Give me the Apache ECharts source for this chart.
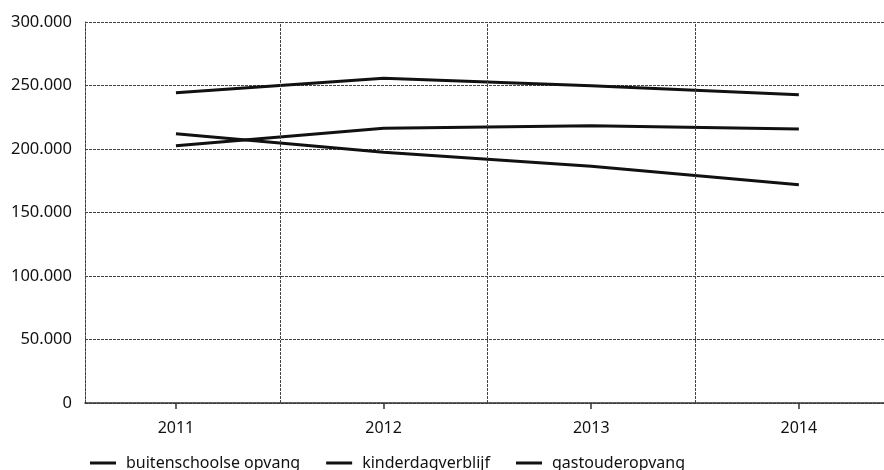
<!DOCTYPE html>
<html>
<head>
<meta charset="utf-8">
<script src="https://cdn.jsdelivr.net/npm/echarts@6/dist/echarts.min.js"></script>
<style>html,body{margin:0;padding:0;background:#fff}#c{width:884px;height:470px}</style>
</head>
<body>
<div id="c"></div>
<script>
var years = [2011, 2012, 2013, 2014];
var seriesNames = ['buitenschoolse opvang', 'kinderdagverblijf', 'gastouderopvang'];
var buitenschoolse = [202600, 216300, 218400, 215700];
var kinderdagverblijf = [244300, 255700, 249800, 242800];
var gastouder = [212000, 197500, 186500, 171900];
var yTicks = [0, 50000, 100000, 150000, 200000, 250000, 300000];
var dividers = [2011.5, 2012.5, 2013.5];

var font = 'Noto Sans';
function pairs(vals) { return years.map(function (y, i) { return [y, vals[i]]; }); }
function fmt(v) { return v === 0 ? '0' : (v / 1000) + '.000'; }

var lineStyle = { color: '#111', width: 3 };
var chart = echarts.init(document.getElementById('c'), null, { renderer: 'canvas' });
chart.setOption({
  animation: false,
  backgroundColor: '#fff',
  grid: { left: 85, top: 22, right: 0, bottom: 67, containLabel: false },
  xAxis: {
    type: 'value',
    min: 2010.562,
    max: 2014.41,
    axisLine: { show: true, lineStyle: { color: '#333', width: 1.5 } },
    axisTick: { show: true, customValues: years, length: 6, lineStyle: { color: '#333', width: 1.5 } },
    axisLabel: { customValues: years, formatter: function (v) { return String(v); }, color: '#111', fontFamily: font, fontSize: 16, margin: 17 },
    splitLine: { show: false }
  },
  yAxis: {
    type: 'value',
    min: yTicks[0],
    max: yTicks[yTicks.length - 1],
    interval: 50000,
    axisLine: { show: true, lineStyle: { color: '#444', width: 1, type: [3, 1] } },
    axisTick: { show: false },
    axisLabel: { formatter: fmt, color: '#111', fontFamily: font, fontSize: 16.5, margin: 13 },
    splitLine: { show: true, lineStyle: { color: '#444', width: 1, type: [3, 1] } }
  },
  legend: {
    left: 85, top: 450,
    itemWidth: 26, itemHeight: 3, itemGap: 26,
    icon: 'rect',
    textStyle: { color: '#111', fontFamily: font, fontSize: 16, padding: [0, 0, 0, 5] },
    data: seriesNames
  },
  series: [
    { name: seriesNames[0], type: 'line', data: pairs(buitenschoolse), symbol: 'none', lineStyle: lineStyle, itemStyle: { color: '#111' },
      markLine: { silent: true, symbol: 'none', label: { show: false }, lineStyle: { color: '#444', width: 1, type: [3, 1] },
        data: dividers.map(function (d) { return { xAxis: d }; }) } },
    { name: seriesNames[1], type: 'line', data: pairs(kinderdagverblijf), symbol: 'none', lineStyle: lineStyle, itemStyle: { color: '#111' } },
    { name: seriesNames[2], type: 'line', data: pairs(gastouder), symbol: 'none', lineStyle: lineStyle, itemStyle: { color: '#111' } }
  ]
});
</script>
</body>
</html>
